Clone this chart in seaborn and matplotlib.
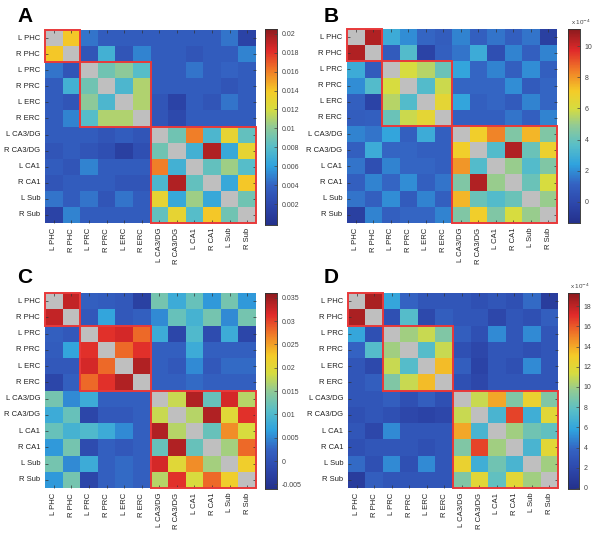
import numpy as np
import pandas as pd
import matplotlib
matplotlib.use("Agg")
import matplotlib.pyplot as plt
import seaborn as sns
from matplotlib.patches import Rectangle
from matplotlib.ticker import FuncFormatter
from matplotlib.colors import LinearSegmentedColormap

# regions (rows/cols of every matrix)
regions = ['L PHC', 'R PHC', 'L PRC', 'R PRC', 'L ERC', 'R ERC',
           'L CA3/DG', 'R CA3/DG', 'L CA1', 'R CA1', 'L Sub', 'R Sub']
n = np.nan

# panel A
mat_a = [
    [n, 0.014, 0.0045, 0.0035, 0.0035, 0.0035, 0.0035, 0.0035, 0.0035, 0.0035, 0.0045, 0.0015],
    [0.014, n, 0.003, 0.007, 0.003, 0.005, 0.0035, 0.0035, 0.003, 0.0035, 0.0035, 0.005],
    [0.0045, 0.003, n, 0.009, 0.010, 0.008, 0.0035, 0.0035, 0.0045, 0.0035, 0.004, 0.0035],
    [0.0035, 0.007, 0.009, n, 0.0075, 0.011, 0.0035, 0.0035, 0.0035, 0.0035, 0.003, 0.0035],
    [0.0035, 0.003, 0.010, 0.0075, n, 0.011, 0.003, 0.0015, 0.0035, 0.003, 0.0045, 0.0035],
    [0.0035, 0.005, 0.008, 0.011, 0.011, n, 0.003, 0.002, 0.0035, 0.0035, 0.0035, 0.0035],
    [0.0035, 0.0035, 0.0035, 0.003, 0.0035, 0.003, n, 0.009, 0.016, 0.0075, 0.013, 0.0085],
    [0.003, 0.0035, 0.003, 0.0025, 0.0012, 0.0025, 0.009, n, 0.007, 0.0195, 0.0065, 0.013],
    [0.0035, 0.003, 0.005, 0.0035, 0.0035, 0.0035, 0.016, 0.007, n, 0.0085, 0.0105, 0.008],
    [0.003, 0.0035, 0.0035, 0.0035, 0.003, 0.003, 0.0075, 0.0195, 0.0085, n, 0.0065, 0.014],
    [0.0045, 0.0035, 0.0045, 0.003, 0.0045, 0.0035, 0.013, 0.0065, 0.0105, 0.0065, n, 0.009],
    [0.0015, 0.005, 0.0035, 0.0035, 0.0035, 0.0035, 0.0085, 0.013, 0.008, 0.014, 0.009, n],
]
ticks_a = [0.002, 0.004, 0.006, 0.008, 0.01, 0.012, 0.014, 0.016, 0.018, 0.02]

# panel B (x 10^-4)
mat_b = [
    [n, 10.5, 2.8, 2.0, 1.2, 0.9, 1.8, 1.0, 1.5, 1.0, 1.5, -0.5],
    [10.5, n, 0.8, 3.5, -0.3, 1.0, 1.5, 2.8, 0.3, 1.8, 1.0, 1.8],
    [2.8, 0.8, n, 6.0, 5.5, 4.0, 2.5, 1.2, 1.8, 1.0, 2.0, 1.0],
    [2.0, 3.5, 6.0, n, 3.5, 5.8, 1.2, 1.2, 1.2, 2.0, 0.8, 1.2],
    [1.0, -0.3, 5.5, 3.5, n, 6.5, 2.5, 1.0, 1.2, 0.8, 1.8, 1.2],
    [0.9, 1.0, 4.0, 5.8, 6.5, n, 1.0, 1.0, 1.0, 1.5, 1.0, 1.8],
    [1.8, 1.5, 2.5, 1.0, 2.8, 1.0, n, 7.0, 8.3, 4.5, 7.5, 4.5],
    [1.0, 2.8, 1.2, 1.2, 1.0, 1.0, 7.0, n, 3.5, 10.5, 4.0, 6.8],
    [1.5, 0.3, 1.8, 1.2, 1.2, 1.0, 8.0, 3.5, n, 5.0, 3.5, 4.5],
    [1.0, 1.8, 1.2, 2.0, 1.0, 1.5, 4.5, 10.5, 5.0, n, 4.0, 6.0],
    [1.5, 1.0, 2.0, 0.8, 1.8, 1.0, 7.5, 4.0, 3.5, 4.0, n, 5.0],
    [-0.5, 1.8, 1.0, 1.2, 1.2, 1.8, 4.5, 7.0, 4.5, 6.0, 5.0, n],
]
ticks_b = [0, 2, 4, 6, 8, 10]

# panel C
mat_c = [
    [n, 0.033, 0.002, 0.0015, 0.001, -0.003, 0.013, 0.008, 0.012, 0.006, 0.013, 0.006],
    [0.033, n, 0.001, 0.007, 0.001, 0.002, 0.005, 0.012, 0.009, 0.013, 0.005, 0.013],
    [0.002, 0.001, n, 0.031, 0.032, 0.028, 0.008, -0.002, 0.010, -0.001, 0.008, -0.002],
    [0.0015, 0.007, 0.031, n, 0.028, 0.031, 0.002, 0.002, 0.008, 0.002, 0.002, 0.002],
    [0.001, 0.001, 0.032, 0.028, n, 0.034, 0.002, 0.001, 0.005, 0.001, 0.003, 0.003],
    [-0.002, 0.002, 0.028, 0.031, 0.034, n, 0.002, 0.002, 0.003, 0.002, 0.002, 0.002],
    [0.013, 0.005, 0.008, 0.002, 0.002, 0.002, n, 0.018, 0.034, 0.012, 0.032, 0.017],
    [0.008, 0.012, -0.002, 0.001, 0.001, 0.002, 0.018, n, 0.017, 0.034, 0.020, 0.031],
    [0.012, 0.009, 0.010, 0.008, 0.005, 0.002, 0.034, 0.017, n, 0.012, 0.026, 0.019],
    [0.006, 0.013, -0.001, 0.002, 0.001, 0.002, 0.012, 0.034, 0.012, n, 0.016, 0.028],
    [0.013, 0.005, 0.008, 0.002, 0.003, 0.002, 0.032, 0.020, 0.026, 0.016, n, 0.022],
    [0.006, 0.013, -0.002, 0.002, 0.003, 0.002, 0.017, 0.031, 0.019, 0.028, 0.022, n],
]
ticks_c = [-0.005, 0, 0.005, 0.01, 0.015, 0.02, 0.025, 0.03, 0.035]

# panel D (x 10^-4)
mat_d = [
    [n, 18.5, 6.0, 3.8, 3.0, 3.0, 3.0, 2.5, 3.0, 2.5, 4.0, 1.0],
    [18.5, n, 2.5, 7.5, 2.0, 3.5, 3.0, 3.0, 1.8, 3.0, 2.5, 3.5],
    [6.0, 2.5, n, 10, 11, 9, 3.5, 2.5, 5.0, 3.0, 5.0, 3.0],
    [3.8, 7.5, 10, n, 7.5, 11, 2.5, 1.8, 3.0, 3.0, 2.5, 3.0],
    [3.0, 2.0, 11, 7.5, n, 13.5, 3.5, 1.5, 3.0, 2.5, 5.0, 3.0],
    [3.0, 3.5, 9, 11, 13.5, n, 2.5, 1.8, 3.0, 3.0, 3.0, 3.0],
    [3.0, 3.0, 3.5, 2.5, 3.5, 2.5, n, 11, 14, 9, 12.5, 9],
    [2.5, 3.0, 2.5, 1.8, 1.5, 1.8, 11, n, 7, 16.5, 6.5, 12],
    [3.0, 1.8, 5.0, 3.0, 3.0, 3.0, 14, 7, n, 10, 8.5, 8.0],
    [2.5, 3.0, 3.0, 3.0, 2.5, 3.0, 9, 16.5, 10, n, 7, 12],
    [4.0, 2.5, 5.0, 2.5, 5.0, 3.0, 12.5, 6.5, 8.5, 7, n, 10],
    [1.0, 3.5, 3.0, 3.0, 3.0, 3.0, 9, 12, 8, 12, 10, n],
]
ticks_d = [0, 2, 4, 6, 8, 10, 12, 14, 16, 18]

# red blocks: (start, size)
blocks = [(0, 2), (2, 4), (6, 6)]

# muted jet, as it looks in the printed figure
muted_jet = LinearSegmentedColormap.from_list('muted_jet', [
    (0.00, '#24318c'), (0.10, '#2d47ab'), (0.20, '#3462c2'),
    (0.30, '#2fa2de'), (0.40, '#58bec8'), (0.50, '#90ca96'),
    (0.59, '#d6dc40'), (0.68, '#f4cc28'), (0.79, '#f07a28'),
    (0.89, '#e02a2a'), (1.00, '#8c1a1e')])

W, H = 604, 533
fig = plt.figure(figsize=(W / 100, H / 100), dpi=100)
fig.patch.set_facecolor('white')
plt.rcParams['font.family'] = ['Liberation Sans', 'DejaVu Sans']


def rect(x0, y0, x1, y1):
    # pixel box -> figure fraction
    return [x0 / W, 1 - y1 / H, (x1 - x0) / W, (y1 - y0) / H]


panels = [
    ('A', mat_a, -0.0002, 0.0205, ticks_a, None, (45, 30, 256, 223), (265, 29, 277, 225), (17, 22)),
    ('B', mat_b, -1.35, 11.1, ticks_b, 'x 10$^{-4}$', (347, 29, 557, 223), (568, 29, 580, 223), (324, 22)),
    ('C', mat_c, -0.006, 0.036, ticks_c, None, (45, 293, 256, 488), (265, 293, 277, 489), (17, 283)),
    ('D', mat_d, -0.1, 19.3, ticks_d, 'x 10$^{-4}$', (348, 293, 558, 488), (568, 293, 579, 489), (324, 283)),
]

for letter, mat, vmin, vmax, cticks, scale, hbox, cbox, lpos in panels:
    df = pd.DataFrame(mat, index=regions, columns=regions)
    ax = fig.add_axes(rect(*hbox))
    cax = fig.add_axes(rect(*cbox))
    ax.set_facecolor('#bfbfbf')
    sns.heatmap(df, ax=ax, cbar_ax=cax, cmap=muted_jet, vmin=vmin, vmax=vmax,
                xticklabels=True, yticklabels=True)
    ax.tick_params(length=2, width=0.5, direction='in', color='#333333',
                   labelsize=5.5, labelcolor='#222222',
                   top=True, right=True, labeltop=False, labelright=False)
    ax.set_xticklabels(regions, rotation=90)
    ax.set_yticklabels(regions, rotation=0)
    for s, k in blocks:
        ax.add_patch(Rectangle((s, s), k, k, fill=False, edgecolor='#e8393a',
                               lw=1.4, clip_on=False, zorder=5))

    cax.set_yticks(cticks)
    cax.yaxis.set_major_formatter(FuncFormatter(lambda v, p: '{:g}'.format(v)))
    cax.tick_params(labelsize=5, length=2, direction='in', width=0.5, colors='#444444')
    for sp in cax.spines.values():
        sp.set_visible(True)
        sp.set_linewidth(0.5)
        sp.set_edgecolor('#333333')
    if scale:
        cax.text(1.1, 1.01, scale, transform=cax.transAxes, fontsize=4.5,
                 ha='center', va='bottom', color='#444444')

    fig.text(lpos[0] / W, 1 - lpos[1] / H, letter, fontsize=15, fontweight='bold',
             ha='left', va='baseline')

fig.savefig('out.png', dpi=100, facecolor='white')
